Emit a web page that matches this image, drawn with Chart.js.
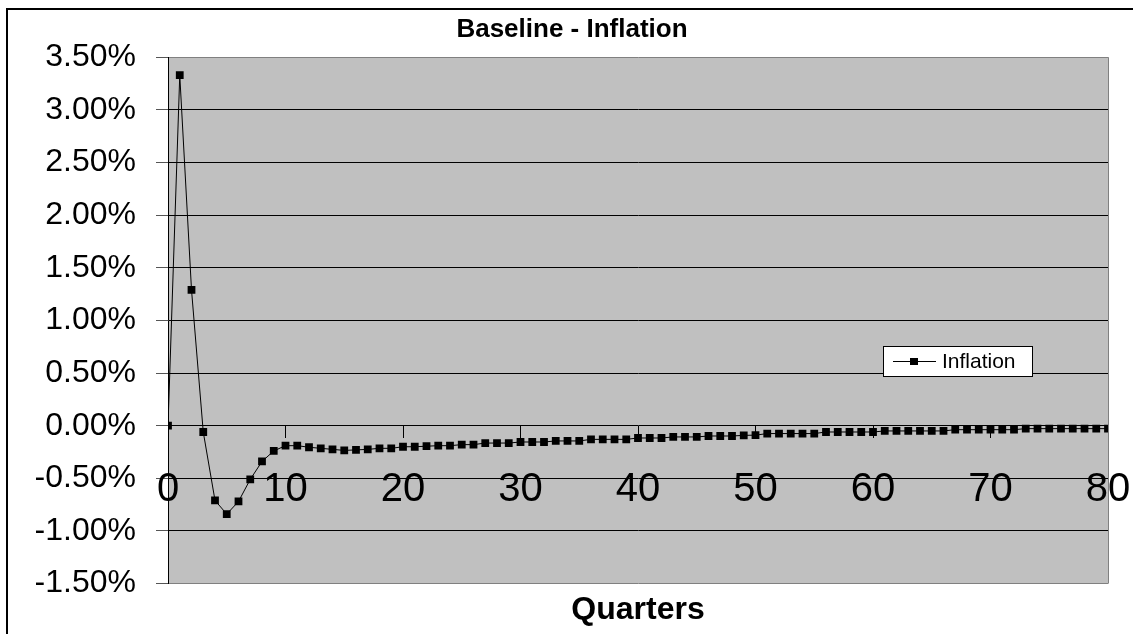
<!DOCTYPE html>
<html>
<head>
<meta charset="utf-8">
<title>Baseline - Inflation</title>
<script src="https://cdn.jsdelivr.net/npm/chart.js@4/dist/chart.umd.min.js"></script>
<style>
    html, body { margin: 0; padding: 0; background: #fff; }
    canvas { display: block; }
</style>
</head>
<body>
<canvas id="inflationChart" width="1133" height="634"></canvas>
<script>
// quarters 0..80
const quarters = [
    0, 1, 2, 3, 4, 5, 6, 7, 8, 9,
    10, 11, 12, 13, 14, 15, 16, 17, 18, 19,
    20, 21, 22, 23, 24, 25, 26, 27, 28, 29,
    30, 31, 32, 33, 34, 35, 36, 37, 38, 39,
    40, 41, 42, 43, 44, 45, 46, 47, 48, 49,
    50, 51, 52, 53, 54, 55, 56, 57, 58, 59,
    60, 61, 62, 63, 64, 65, 66, 67, 68, 69,
    70, 71, 72, 73, 74, 75, 76, 77, 78, 79, 80
];

// inflation in percent
const inflation = [
    0, 3.33, 1.29, -0.06, -0.71, -0.84, -0.72, -0.51, -0.34, -0.24,
    -0.19, -0.19, -0.205, -0.215, -0.225, -0.235, -0.23, -0.225, -0.215, -0.215,
    -0.20, -0.20, -0.195, -0.19, -0.19, -0.18, -0.18, -0.165, -0.165, -0.165,
    -0.155, -0.155, -0.155, -0.145, -0.145, -0.145, -0.13, -0.13, -0.13, -0.13,
    -0.117, -0.117, -0.117, -0.107, -0.107, -0.107, -0.098, -0.098, -0.098, -0.092,
    -0.09, -0.075, -0.075, -0.075, -0.075, -0.075, -0.06, -0.06, -0.06, -0.06,
    -0.06, -0.05, -0.05, -0.05, -0.05, -0.05, -0.05, -0.038, -0.038, -0.038,
    -0.038, -0.038, -0.038, -0.028, -0.028, -0.028, -0.028, -0.028, -0.028, -0.028, -0.028
];

const yMin = -1.5;
const yMax = 3.5;
const yStep = 0.5;
const xTickStep = 10;

const FONT = "'Liberation Sans', Arial, sans-serif";

// white page, outer frame and grey plot area
const backgroundPlugin = {
    id: 'background',
    beforeDraw(chart) {
        const { ctx, chartArea } = chart;
        ctx.save();
        ctx.fillStyle = '#fff';
        ctx.fillRect(0, 0, chart.width, chart.height);
        ctx.strokeStyle = '#000';
        ctx.lineWidth = 2;
        ctx.strokeRect(7, 9, chart.width + 20, chart.height + 20);
        ctx.fillStyle = '#c0c0c0';
        ctx.fillRect(chartArea.left, chartArea.top, chartArea.right - chartArea.left, chartArea.bottom - chartArea.top);
        ctx.restore();
    },
    afterDraw(chart) {
        const { ctx, chartArea } = chart;
        ctx.save();
        ctx.strokeStyle = '#808080';
        ctx.lineWidth = 1;
        ctx.beginPath();
        ctx.moveTo(Math.round(chartArea.right) + 0.5, chartArea.top);
        ctx.lineTo(Math.round(chartArea.right) + 0.5, chartArea.bottom);
        ctx.stroke();
        ctx.restore();
    }
};

// small boxed legend inside the plot
const boxLegendPlugin = {
    id: 'boxLegend',
    afterDraw(chart) {
        const { ctx } = chart;
        const ds = chart.data.datasets[0];
        const x = 883, y = 346, w = 149, h = 30;
        const cy = y + h / 2;
        ctx.save();
        ctx.fillStyle = '#fff';
        ctx.fillRect(x, y, w, h);
        ctx.strokeStyle = '#000';
        ctx.lineWidth = 1;
        ctx.strokeRect(x + 0.5, y + 0.5, w, h);
        ctx.beginPath();
        ctx.moveTo(x + 10, Math.round(cy) + 0.5);
        ctx.lineTo(x + 53, Math.round(cy) + 0.5);
        ctx.stroke();
        ctx.fillStyle = '#000';
        ctx.fillRect(x + 27, Math.round(cy) - 3, 8, 7);
        ctx.font = '21px ' + FONT;
        ctx.textBaseline = 'middle';
        ctx.fillText(ds.label, x + 59, cy + 1);
        ctx.restore();
    }
};

const ctx = document.getElementById('inflationChart').getContext('2d');
new Chart(ctx, {
    type: 'line',
    data: {
        labels: quarters,
        datasets: [{
            label: 'Inflation',
            data: inflation,
            borderColor: '#000',
            borderWidth: 1,
            backgroundColor: '#000',
            pointStyle: 'rect',
            pointRadius: 5.5,
            pointBorderWidth: 0,
            pointBackgroundColor: '#000',
            tension: 0,
            fill: false
        }]
    },
    options: {
        responsive: false,
        animation: false,
        devicePixelRatio: 1,
        layout: {
            padding: { left: 36, right: 25, top: 8, bottom: 0 }
        },
        plugins: {
            legend: { display: false },
            tooltip: { enabled: false },
            title: {
                display: true,
                text: 'Baseline - Inflation',
                color: '#000',
                font: { family: FONT, size: 26, weight: 'bold' },
                padding: { top: 6, bottom: 12 }
            },
            subtitle: {
                display: true,
                position: 'bottom',
                fullSize: false,
                text: 'Quarters',
                color: '#000',
                font: { family: FONT, size: 32, weight: 'bold' },
                padding: { top: 7, bottom: 5 }
            }
        },
        scales: {
            x: {
                type: 'linear',
                position: { y: 0 },
                min: 0,
                max: 80,
                afterFit(scale) {
                    scale.height = 0;
                    scale.paddingLeft = 0;
                    scale.paddingRight = 0;
                },
                ticks: {
                    stepSize: xTickStep,
                    color: '#000',
                    font: { family: FONT, size: 40 },
                    padding: 28,
                    maxRotation: 0
                },
                grid: {
                    drawOnChartArea: false,
                    drawTicks: true,
                    tickLength: 12,
                    tickColor: '#000'
                },
                border: { display: false }
            },
            y: {
                min: yMin,
                max: yMax,
                afterFit(scale) { scale.width = 132; },
                ticks: {
                    stepSize: yStep,
                    color: '#000',
                    font: { family: FONT, size: 32 },
                    padding: 20,
                    callback: v => v.toFixed(2) + '%'
                },
                grid: {
                    color: c => (c.tick && (c.tick.value === yMin || c.tick.value === yMax)) ? '#808080' : '#000',
                    lineWidth: 1,
                    tickLength: 12,
                    tickColor: '#555'
                },
                border: { display: true, color: '#000', width: 1 }
            }
        }
    },
    plugins: [backgroundPlugin, boxLegendPlugin]
});
</script>
</body>
</html>
